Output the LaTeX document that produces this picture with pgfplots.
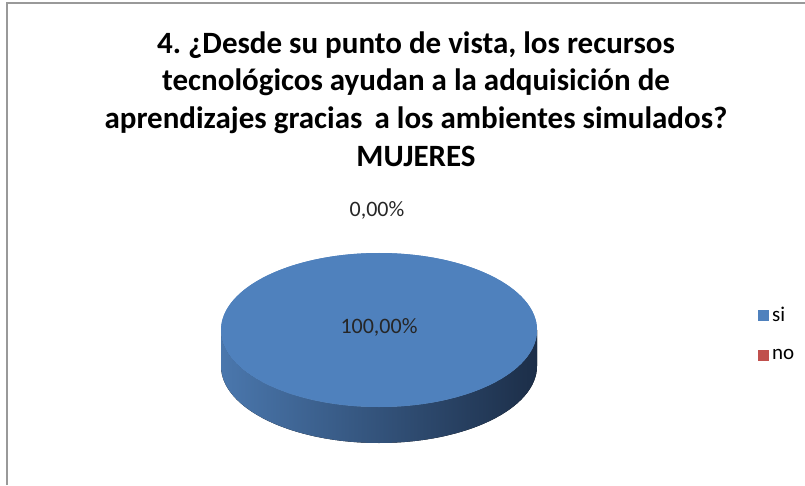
\documentclass[border=0pt]{standalone}
\usepackage{pgfplots}
\usepackage{pgfplotstable}
\pgfplotsset{compat=1.18}
\usepackage{fontspec}
\setmainfont{Carlito}
\frenchspacing
\pgfplotstableread{
label value
si 100
no 0
}\piedata
\definecolor{siblue}{HTML}{4F81BD}
\definecolor{nored}{HTML}{C0504D}
\definecolor{sideL}{HTML}{4A77AD}
\definecolor{sideR}{HTML}{1C2E48}
\begin{document}
\begin{tikzpicture}
\pgfplotstablegetelem{0}{value}\of\piedata \edef\vsi{\pgfplotsretval}
\pgfplotstablegetelem{1}{value}\of\piedata \edef\vno{\pgfplotsretval}
\path[use as bounding box] (0,0) rectangle (805pt,485pt);
\begin{axis}[x=1pt,y=1pt,xmin=0,xmax=805,ymin=0,ymax=485,hide axis,clip=false,
  anchor=origin, at={(0pt,0pt)}]
% border
\draw[gray!80,line width=1.2pt] (axis cs:7,0) -- (axis cs:7,482) -- (axis cs:805,482);
% side of the pie
\fill[left color=sideL,right color=sideR] (axis cs:221,155) -- (axis cs:221,119)
  arc[start angle=180,end angle=360,x radius=158pt,y radius=77pt]
  -- (axis cs:537,155)
  arc[start angle=0,end angle=-180,x radius=158pt,y radius=77pt] -- cycle;
% top face: si slice
\fill[siblue] (axis cs:379,155) -- ++(0pt,77pt)
  arc[start angle=90,delta angle={-3.6*\vsi},x radius=158pt,y radius=77pt] -- cycle;
\fill[siblue] (axis cs:379,155) ellipse[x radius=158pt,y radius=77pt];
% labels
\node[font=\fontsize{22}{26}\selectfont,text=black!85] at (axis cs:379,158) {100,00\%};
\node[font=\fontsize{22}{26}\selectfont,text=black!85] at (axis cs:377,275) {0,00\%};
% legend
\node[fill=siblue,minimum size=11pt,inner sep=0pt] at (axis cs:763,170) {};
\node[anchor=west,font=\fontsize{21}{24}\selectfont,inner sep=0pt] at (axis cs:772,171) {si};
\node[fill=nored,minimum size=11pt,inner sep=0pt] at (axis cs:763,130) {};
\node[anchor=west,font=\fontsize{21}{24}\selectfont,inner sep=0pt] at (axis cs:772,131) {no};
% title
\node[anchor=base,font=\bfseries\fontsize{31}{36}\selectfont] at (axis cs:416,431) {4. ¿Desde su punto de vista, los recursos};
\node[anchor=base,font=\bfseries\fontsize{31}{36}\selectfont] at (axis cs:416,394) {tecnológicos ayudan a la adquisición de};
\node[anchor=base,font=\bfseries\fontsize{31}{36}\selectfont] at (axis cs:416,356) {aprendizajes gracias\, a los ambientes simulados?};
\node[anchor=base,font=\bfseries\fontsize{31}{36}\selectfont] at (axis cs:416,318) {MUJERES};
\end{axis}
\end{tikzpicture}
\end{document}
